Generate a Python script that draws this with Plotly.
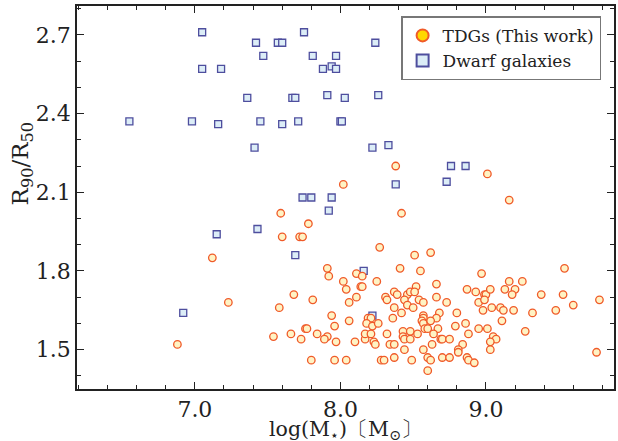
import plotly.graph_objects as go

# TDGs (This work)
tdg_logm = [6.88, 7.12, 7.23, 7.54, 7.58, 7.59, 7.60, 7.66, 7.68, 7.72, 7.74, 7.73, 7.78, 8.02, 8.38, 8.42, 8.27, 8.51, 8.62, 9.01, 9.16,
            7.91, 7.92, 8.11, 8.15, 8.02, 8.25, 8.04, 8.14, 8.15, 8.11, 7.81, 8.06, 7.94, 7.96, 8.06, 8.19, 8.21, 8.18, 8.22, 8.26,
            7.76, 7.77, 7.84, 7.91, 7.89, 7.97, 8.10, 8.17, 8.17, 8.21, 8.23, 8.24, 7.80, 7.96, 8.04, 8.28, 8.30,
            8.41, 8.55, 8.66, 8.52, 8.87, 8.37, 8.31, 8.32, 8.39, 8.46, 8.48, 8.51, 8.44, 8.54, 8.57, 8.66, 8.73, 8.46, 8.37, 8.50,
            8.42, 8.68, 8.80, 8.57, 8.57, 8.56, 8.57, 8.66, 8.62, 8.36, 8.79, 8.86, 8.67, 8.58, 8.60,
            8.32, 8.43, 8.48, 8.43, 8.44, 8.48, 8.53, 8.64, 8.69, 8.70, 8.75, 8.88, 8.34, 8.37, 8.63, 8.84, 8.81, 8.81, 8.44, 8.57,
            8.37, 8.49, 8.60, 8.62, 8.70, 8.75, 8.87, 8.88, 8.92, 8.60,
            8.97, 9.54, 9.16, 9.25, 8.93, 8.99, 9.00, 9.03, 9.13, 9.20, 9.18, 9.38, 9.53, 8.95, 8.99, 9.60, 9.78, 8.98, 9.04, 9.10,
            9.12, 9.19, 9.32, 9.48, 9.11, 9.27, 8.95, 9.01, 9.05, 9.07, 9.03, 9.03, 9.76]
tdg_r90r50 = [1.52, 1.85, 1.68, 1.55, 1.66, 2.02, 1.93, 1.56, 1.71, 1.93, 1.93, 1.54, 1.98, 2.13, 2.20, 2.02, 1.89, 1.86, 1.87, 2.17, 2.07,
              1.81, 1.78, 1.79, 1.78, 1.76, 1.76, 1.73, 1.74, 1.74, 1.70, 1.69, 1.68, 1.63, 1.59, 1.61, 1.62, 1.62, 1.60, 1.59, 1.60,
              1.58, 1.58, 1.56, 1.55, 1.54, 1.53, 1.53, 1.54, 1.56, 1.56, 1.53, 1.52, 1.46, 1.46, 1.46, 1.46, 1.46,
              1.81, 1.80, 1.75, 1.74, 1.73, 1.72, 1.70, 1.69, 1.71, 1.71, 1.72, 1.72, 1.69, 1.69, 1.68, 1.70, 1.68, 1.67, 1.66, 1.66,
              1.64, 1.64, 1.64, 1.63, 1.62, 1.61, 1.60, 1.62, 1.61, 1.62, 1.59, 1.60, 1.58, 1.58, 1.58,
              1.56, 1.57, 1.57, 1.55, 1.54, 1.54, 1.56, 1.56, 1.54, 1.54, 1.54, 1.56, 1.52, 1.52, 1.52, 1.52, 1.50, 1.49, 1.50, 1.50,
              1.47, 1.46, 1.47, 1.46, 1.47, 1.47, 1.47, 1.46, 1.45, 1.42,
              1.79, 1.81, 1.76, 1.76, 1.72, 1.71, 1.71, 1.73, 1.73, 1.73, 1.71, 1.71, 1.71, 1.68, 1.69, 1.67, 1.69, 1.65, 1.66, 1.66,
              1.65, 1.65, 1.64, 1.65, 1.61, 1.57, 1.58, 1.58, 1.55, 1.54, 1.53, 1.50, 1.49]

# Dwarf galaxies
dwarf_logm = [6.55, 6.98, 7.16, 7.05, 7.05, 7.18, 7.36, 7.42, 7.47, 7.57, 7.60, 7.75, 7.81, 7.97, 7.88, 7.94, 7.97, 8.24,
              7.67, 7.69, 7.91, 8.03, 8.26, 7.45, 7.60, 7.71, 8.00, 8.01, 7.41, 8.22, 8.33, 8.38, 7.74, 7.80, 7.94, 7.92,
              7.43, 7.15, 7.69, 6.92, 8.76, 8.86, 8.73, 8.16, 8.22]
dwarf_r90r50 = [2.37, 2.37, 2.36, 2.71, 2.57, 2.57, 2.46, 2.67, 2.62, 2.67, 2.67, 2.71, 2.62, 2.62, 2.57, 2.58, 2.57, 2.67,
                2.46, 2.46, 2.47, 2.46, 2.47, 2.37, 2.36, 2.37, 2.37, 2.37, 2.27, 2.27, 2.28, 2.13, 2.08, 2.08, 2.08, 2.03,
                1.96, 1.94, 1.86, 1.64, 2.20, 2.20, 2.14, 1.80, 1.63]

series_names = ["TDGs (This work)", "Dwarf galaxies"]
x_ticks = [7.0, 8.0, 9.0]
x_tick_labels = ["7.0", "8.0", "9.0"]
y_ticks = [1.5, 1.8, 2.1, 2.4, 2.7]
y_tick_labels = ["1.5", "1.8", "2.1", "2.4", "2.7"]
x_title = "log(M<sub>⋆</sub>)〔M<sub>⊙</sub>〕"
y_title = "R<sub>90</sub>/R<sub>50</sub>"

FONT = "DejaVu Serif"
INK = "#222"
circ_edge = "#f05a28"
circ_fill = "#fff3c4"
sq_edge = "#4e4e9e"
sq_fill = "#dcedf7"

fig = go.Figure()
fig.add_trace(go.Scatter(
    x=dwarf_logm, y=dwarf_r90r50, mode="markers", showlegend=False,
    marker=dict(symbol="square", size=7, color=sq_fill, line=dict(color=sq_edge, width=1.3)),
))
fig.add_trace(go.Scatter(
    x=tdg_logm, y=tdg_r90r50, mode="markers", showlegend=False,
    marker=dict(symbol="circle", size=7.5, color=circ_fill, line=dict(color=circ_edge, width=1.3)),
))
# legend entries
fig.add_trace(go.Scatter(
    x=[None], y=[None], mode="markers", name=series_names[0],
    marker=dict(symbol="circle", size=7.5, color="#ffd700", line=dict(color=circ_edge, width=1.3)),
))
fig.add_trace(go.Scatter(
    x=[None], y=[None], mode="markers", name=series_names[1],
    marker=dict(symbol="square", size=7, color=sq_fill, line=dict(color=sq_edge, width=1.3)),
))

axis_common = dict(
    showgrid=False, zeroline=False, showline=True, linecolor=INK, linewidth=1.5,
    mirror="allticks", ticks="inside", ticklen=7, tickwidth=1.2, tickcolor=INK,
    tickfont=dict(family=FONT, size=22, color=INK), automargin=False,
)

fig.update_xaxes(
    range=[6.19, 9.88], tickmode="array", tickvals=x_ticks, ticktext=x_tick_labels,
    minor=dict(ticks="inside", ticklen=4, dtick=0.2, tick0=7.0, tickcolor=INK, tickwidth=1),
    **axis_common,
)
fig.update_yaxes(
    range=[1.35, 2.81], tickmode="array", tickvals=y_ticks, ticktext=y_tick_labels,
    minor=dict(ticks="inside", ticklen=4, dtick=0.1, tick0=1.5, tickcolor=INK, tickwidth=1),
    **axis_common,
)

fig.add_annotation(
    text=x_title, xref="paper", yref="paper", x=0.5, y=-0.106,
    xanchor="center", yanchor="middle", showarrow=False,
    font=dict(family=FONT, size=20.5, color=INK),
)
fig.add_annotation(
    text=y_title, xref="paper", yref="paper", x=-0.102, y=0.587,
    xanchor="center", yanchor="middle", showarrow=False, textangle=-90,
    font=dict(family=FONT, size=23, color=INK),
)

fig.update_layout(
    width=618, height=441,
    margin=dict(l=77, r=4, t=6, b=52, autoexpand=False),
    paper_bgcolor="white", plot_bgcolor="white",
    font=dict(family=FONT, color=INK),
    legend=dict(
        x=0.976, y=0.973, xanchor="right", yanchor="top",
        bgcolor="white", bordercolor="#777", borderwidth=1.5,
        font=dict(family=FONT, size=17, color=INK),
        itemsizing="constant", tracegroupgap=2,
    ),
)

fig.write_html(
    "out.html",
    config={"displayModeBar": False},
    post_script="document.body.style.margin='0';document.body.style.padding='0';",
)
